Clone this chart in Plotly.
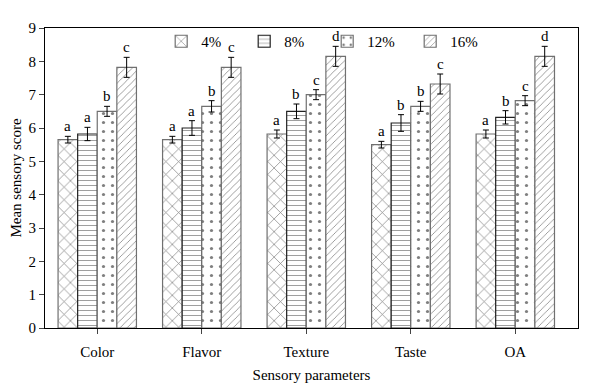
import plotly.graph_objects as go

categories = ["Color", "Flavor", "Texture", "Taste", "OA"]
series_names = ["4%", "8%", "12%", "16%"]
values = {
    "4%": [5.65, 5.65, 5.82, 5.5, 5.82],
    "8%": [5.82, 6.0, 6.5, 6.15, 6.32],
    "12%": [6.5, 6.65, 7.0, 6.65, 6.82],
    "16%": [7.82, 7.82, 8.15, 7.32, 8.15],
}
errors = {
    "4%": [0.1, 0.1, 0.12, 0.1, 0.12],
    "8%": [0.2, 0.22, 0.22, 0.25, 0.2],
    "12%": [0.15, 0.17, 0.15, 0.15, 0.15],
    "16%": [0.3, 0.3, 0.3, 0.3, 0.3],
}
letters = {
    "4%": ["a", "a", "a", "a", "a"],
    "8%": ["a", "a", "b", "b", "b"],
    "12%": ["b", "b", "c", "b", "c"],
    "16%": ["c", "c", "d", "c", "d"],
}
patterns = {"4%": "x", "8%": "-", "12%": ".", "16%": "/"}
pat_size = {"4%": 9, "8%": 5, "12%": 9, "16%": 5}
line_col = {"4%": "#707070", "8%": "#222222", "12%": "#707070", "16%": "#707070"}

FONT = "Liberation Serif"
bargap = 0.25
n = len(series_names)
bw = (1 - bargap) / n

fig = go.Figure()
for k, s in enumerate(series_names):
    fig.add_trace(go.Bar(
        name=s, x=list(range(len(categories))), y=values[s],
        marker=dict(color="white",
                    line=dict(color=line_col[s], width=1.2),
                    pattern=dict(shape=patterns[s], fgcolor="black", bgcolor="white",
                                 size=pat_size[s], solidity=0.15 if s != "12%" else 0.1)),
        error_y=dict(type="data", array=errors[s], color="black", thickness=1, width=3),
    ))
    off = -(1 - bargap) / 2 + bw * (k + 0.5)
    for i, c in enumerate(categories):
        fig.add_annotation(x=i + off, y=values[s][i] + errors[s][i], xref="x", yref="y",
                           text=letters[s][i], showarrow=False, yanchor="bottom", yshift=0,
                           font=dict(family=FONT, size=15, color="black"))

# page body adds an 8px offset, so margins are compensated
fig.update_layout(
    width=600, height=386, barmode="group", bargap=bargap, bargroupgap=0,
    plot_bgcolor="white", paper_bgcolor="white",
    margin=dict(l=37, r=30, t=20, b=66),
    font=dict(family=FONT, size=14, color="black"),
    legend=dict(orientation="h", x=0.218, y=1.01, xanchor="left", yanchor="top",
                entrywidth=38, entrywidthmode="pixels", bgcolor="rgba(0,0,0,0)",
                font=dict(family=FONT, size=15), itemwidth=30, tracegroupgap=0),
    showlegend=True,
)
fig.update_xaxes(tickmode="array", tickvals=list(range(len(categories))), ticktext=categories,
                 range=[-0.5, 4.6], ticks="outside", tickson="boundaries", ticklen=5,
                 ticklabelstandoff=5,
                 showline=True, linecolor="black", linewidth=1, mirror=True, automargin=False,
                 title=dict(text="Sensory parameters", font=dict(family=FONT, size=15), standoff=10),
                 tickfont=dict(family=FONT, size=15))
fig.update_yaxes(range=[0, 9], dtick=1, ticks="outside", ticklen=5, showgrid=False,
                 zeroline=False, showline=True, linecolor="black", linewidth=1, mirror=True,
                 automargin=False,
                 title=dict(text="Mean sensory score", font=dict(family=FONT, size=15), standoff=4),
                 tickfont=dict(family=FONT, size=15))

fig.write_html("out.html")
